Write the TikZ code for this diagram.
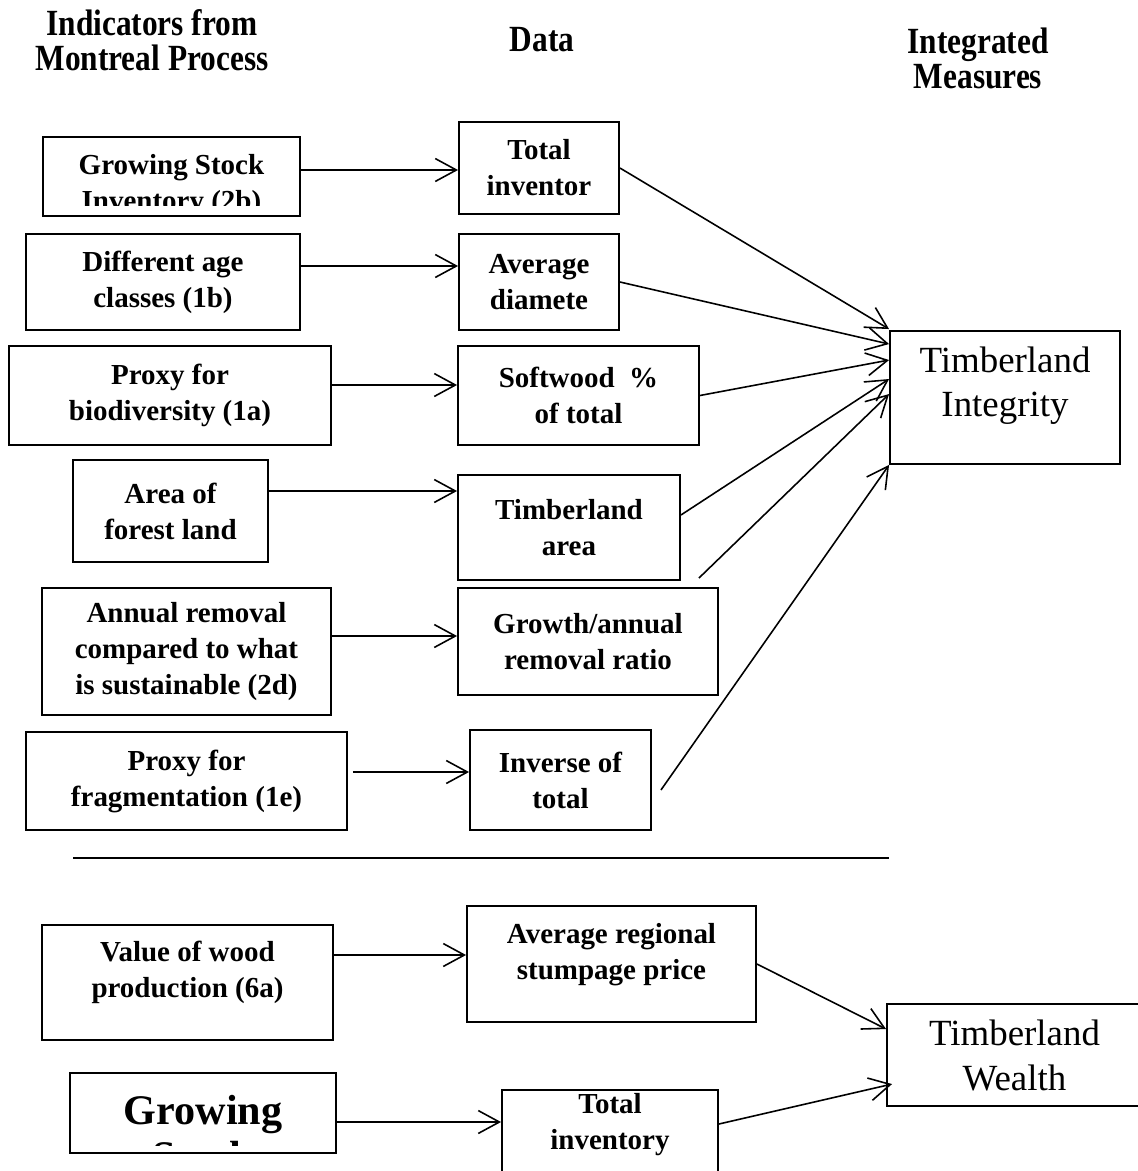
\documentclass[tikz,border=0pt]{standalone}
\usepackage{fontspec}
\setmainfont{Liberation Serif}
\newfontfamily\headfont[FakeStretch=0.85]{Liberation Serif}
\usetikzlibrary{arrows.meta,calc}
\newcommand{\bodyfont}{\fontsize{16.5}{20.5}\selectfont\bfseries}
\newcommand{\bigfont}{\fontsize{21}{25.6}\selectfont}

\begin{document}
\begin{tikzpicture}[x=0.02cm,y=-0.02cm,>={Straight Barb[length=12pt,width=13pt]},line width=0.9pt]
\tikzset{b/.style={draw,line width=1.1pt,align=center,font=\bodyfont,inner sep=2pt},
  m/.style={b,font=\bigfont},
  h/.style={align=center,font=\headfont\fontsize{21}{20}\selectfont\bfseries}}
\useasboundingbox (0,0) rectangle (1138,1171);
\clip (0,0) rectangle (1138,1171);
\node[h] (h1) at (152,40) {Indicators from\\Montreal Process};
\node[h] (h2) at (542,40) {Data};
\node[h] (h3) at (978,58) {Integrated\\Measures};

\node[b,minimum width=5.14cm,minimum height=1.58cm] (i1) at (171.5,176.5) {};
\begin{scope}
\clip (i1.north west) rectangle ([yshift=0.22cm]i1.south east);
\node[align=center,font=\bodyfont] (i1t) at ([yshift=-0.19cm]i1.center) {Growing Stock\\Inventory (2b)};
\end{scope}
\node[b,minimum width=5.48cm,minimum height=1.92cm] (i2) at (163,282) {Different age\\classes (1b)};
\node[b,minimum width=6.44cm,minimum height=1.98cm] (i3) at (170,395.5) {Proxy for\\biodiversity (1a)};
\node[b,minimum width=3.9cm,minimum height=2.04cm] (i4) at (170.5,511) {Area of\\forest land};
\node[b,minimum width=5.78cm,minimum height=2.54cm] (i5) at (186.5,651.5) {Annual removal\\compared to what\\is sustainable (2d)};
\node[b,minimum width=6.42cm,minimum height=1.96cm] (i6) at (186.5,781) {Proxy for\\fragmentation (1e)};

\node[b,minimum width=3.2cm,minimum height=1.84cm] (d1) at (539,168) {Total\\inventor};
\node[b,minimum width=3.2cm,minimum height=1.92cm] (d2) at (539,282) {Average\\diamete};
\node[b,minimum width=4.82cm,minimum height=1.98cm] (d3) at (578.5,395.5) {Softwood\ \ \%\\of total};
\node[b,minimum width=4.44cm,minimum height=2.1cm] (d4) at (569,527.5) {Timberland\\area};
\node[b,minimum width=5.2cm,minimum height=2.14cm] (d5) at (588,641.5) {Growth/annual\\removal ratio};
\node[b,minimum width=3.62cm,minimum height=2cm] (d6) at (560.5,780) {Inverse of\\total};

\node[m,minimum width=4.6cm,minimum height=2.66cm,text depth=18pt] (integ) at (1005,397.5) {Timberland\\Integrity};

\draw[line width=1.1pt] (73,858) -- (889,858);

\node[b,minimum width=5.82cm,minimum height=2.3cm,text depth=15pt] (v1) at (187.5,982.5) {Value of wood\\production (6a)};
\node[b,minimum width=5.78cm,minimum height=2.32cm,text depth=14.5pt] (v2) at (611.5,964) {Average regional\\stumpage price};
\node[m,minimum width=5.1cm,minimum height=2.04cm] (wealth) at (1014.5,1055) {Timberland\\Wealth};
\node[b,minimum width=5.32cm,minimum height=1.6cm] (gr) at (203,1113) {};
\begin{scope}
\clip (gr.north west) rectangle ([yshift=0.16cm]gr.south east);
\node[align=center,font=\fontsize{24}{26}\selectfont\bfseries] (grt) at ([yshift=-0.4cm]gr.center) {Growing\\Stock};
\end{scope}
\node[b,minimum width=4.32cm,minimum height=1.9cm,text depth=18pt] (tinv) at (610,1137.5) {Total\\inventory};

\draw[->] ($(i1.east)+(0,-6.5)$) -- ($(i1.east -| d1.west)+(0,-6.5)$);
\draw[->] ($(i2.east)+(0,-16)$) -- ($(i2.east -| d2.west)+(0,-16)$);
\draw[->] ($(i3.east)+(0,-10.5)$) -- ($(i3.east -| d3.west)+(0,-10.5)$);
\draw[->] ($(i4.east)+(0,-20)$) -- ($(i4.east -| d4.west)+(0,-20)$);
\draw[->] ($(i5.east)+(0,-15.5)$) -- ($(i5.east -| d5.west)+(0,-15.5)$);
\draw[->] ($(i6.east)+(5,-9)$) -- ($(i6.east -| d6.west)+(0,-9)$);
\draw[->] ($(v1.east)+(0,-27.5)$) -- ($(v1.east -| v2.west)+(0,-27.5)$);
\draw[->] ($(gr.east)+(0,9)$) -- ($(gr.east -| tinv.west)+(0,9)$);

\draw[->] (d1.east) -- ($(integ.north west)+(0,-1)$);
\draw[->] (d2.east) -- ($(integ.north west)+(0,14)$);
\draw[->] (d3.east) -- ($(integ.north west)+(0,30)$);
\draw[->] ($(d4.east)+(0,-12.5)$) -- ($(integ.north west)+(0,49)$);
\coordinate (d5top) at ($(d5.north east)+(-20,-9)$);
\draw[->] (d5top) -- ($(integ.north west)+(0,64)$);
\draw[->] ($(d6.east)+(9,10)$) -- (integ.south west);

\draw[->] (v2.east) -- ($(wealth.north west)+(0,26)$);
\draw[->] ($(tinv.east)+(0,-13.5)$) -- ($(wealth.north west)+(6,81)$);
\end{tikzpicture}
\end{document}
